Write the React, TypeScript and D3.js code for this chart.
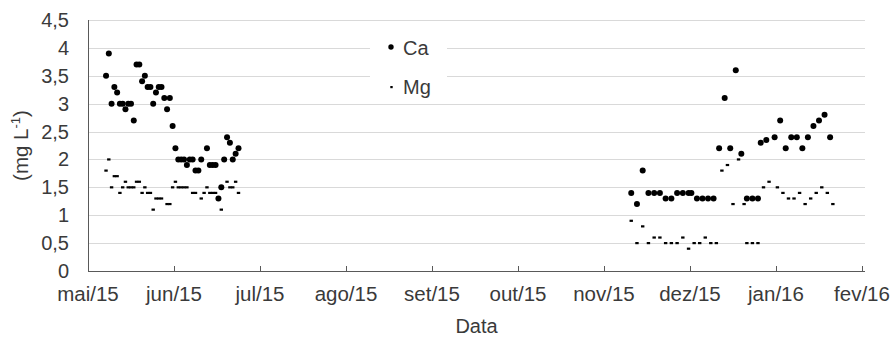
import React from 'react';
import * as d3 from 'd3';

const monthLabels = ['mai/15', 'jun/15', 'jul/15', 'ago/15', 'set/15', 'out/15', 'nov/15', 'dez/15', 'jan/16', 'fev/16'];
const yTicks = [0, 0.5, 1, 1.5, 2, 2.5, 3, 3.5, 4, 4.5];
const yTickLabels = ['0', '0,5', '1', '1,5', '2', '2,5', '3', '3,5', '4', '4,5'];

const caDates = [
  '2015-05-07', '2015-05-08', '2015-05-09', '2015-05-10', '2015-05-11', '2015-05-12', '2015-05-13', '2015-05-14',
  '2015-05-15', '2015-05-16', '2015-05-17', '2015-05-18', '2015-05-19', '2015-05-20', '2015-05-21', '2015-05-22',
  '2015-05-23', '2015-05-24', '2015-05-25', '2015-05-26', '2015-05-27', '2015-05-28', '2015-05-29', '2015-05-30',
  '2015-05-31',
  '2015-06-01', '2015-06-02', '2015-06-03', '2015-06-04', '2015-06-05', '2015-06-06', '2015-06-07', '2015-06-08',
  '2015-06-09', '2015-06-10', '2015-06-12', '2015-06-13', '2015-06-14', '2015-06-15', '2015-06-16', '2015-06-17',
  '2015-06-18', '2015-06-19', '2015-06-20', '2015-06-21', '2015-06-22', '2015-06-23',
  '2015-11-10', '2015-11-12', '2015-11-14', '2015-11-16', '2015-11-18', '2015-11-20', '2015-11-22', '2015-11-24',
  '2015-11-26', '2015-11-28', '2015-11-30',
  '2015-12-01', '2015-12-03', '2015-12-05', '2015-12-07', '2015-12-09',
  '2015-12-11', '2015-12-13', '2015-12-15', '2015-12-17', '2015-12-19',
  '2015-12-21', '2015-12-23', '2015-12-25', '2015-12-26', '2015-12-28', '2015-12-31',
  '2016-01-02', '2016-01-04', '2016-01-06', '2016-01-08', '2016-01-10', '2016-01-12', '2016-01-14', '2016-01-16',
  '2016-01-18', '2016-01-20',
];
const caValues = [
  3.5, 3.9, 3.0, 3.3, 3.2, 3.0, 3.0, 2.9,
  3.0, 3.0, 2.7, 3.7, 3.7, 3.4, 3.5, 3.3,
  3.3, 3.0, 3.2, 3.3, 3.3, 3.1, 2.9, 3.1,
  2.6,
  2.2, 2.0, 2.0, 2.0, 1.9, 2.0, 2.0, 1.8,
  1.8, 2.0, 2.2, 1.9, 1.9, 1.9, 1.3, 1.5,
  2.0, 2.4, 2.3, 2.0, 2.1, 2.2,
  1.4, 1.2, 1.8, 1.4, 1.4, 1.4, 1.3, 1.3,
  1.4, 1.4, 1.4,
  1.4, 1.3, 1.3, 1.3, 1.3,
  2.2, 3.1, 2.2, 3.6, 2.1,
  1.3, 1.3, 1.3, 2.3, 2.35, 2.4,
  2.7, 2.2, 2.4, 2.4, 2.2, 2.4, 2.6, 2.7,
  2.8, 2.4,
];

const mgDates = [
  '2015-05-07', '2015-05-08', '2015-05-09', '2015-05-10', '2015-05-11', '2015-05-12', '2015-05-13', '2015-05-14',
  '2015-05-15', '2015-05-16', '2015-05-17', '2015-05-18', '2015-05-19', '2015-05-20', '2015-05-21', '2015-05-22',
  '2015-05-23', '2015-05-24', '2015-05-25', '2015-05-26', '2015-05-27', '2015-05-29', '2015-05-30', '2015-05-31',
  '2015-06-01', '2015-06-02', '2015-06-03', '2015-06-04', '2015-06-05', '2015-06-07', '2015-06-08', '2015-06-10',
  '2015-06-11', '2015-06-12', '2015-06-13', '2015-06-14', '2015-06-15', '2015-06-17', '2015-06-19', '2015-06-20',
  '2015-06-21', '2015-06-22', '2015-06-23',
  '2015-11-10', '2015-11-12', '2015-11-14', '2015-11-16', '2015-11-18', '2015-11-20', '2015-11-22', '2015-11-24',
  '2015-11-26', '2015-11-28', '2015-11-30',
  '2015-12-02', '2015-12-04', '2015-12-06', '2015-12-08', '2015-12-10',
  '2015-12-12', '2015-12-14', '2015-12-16', '2015-12-18', '2015-12-20',
  '2015-12-21', '2015-12-23', '2015-12-25', '2015-12-27', '2015-12-29',
  '2016-01-01', '2016-01-03', '2016-01-05', '2016-01-07', '2016-01-09', '2016-01-11', '2016-01-13', '2016-01-15',
  '2016-01-17', '2016-01-19', '2016-01-21',
];
const mgValues = [
  1.8, 2.0, 1.5, 1.7, 1.7, 1.4, 1.5, 1.6,
  1.5, 1.5, 1.5, 1.6, 1.6, 1.4, 1.5, 1.4,
  1.4, 1.1, 1.3, 1.3, 1.3, 1.2, 1.2, 1.5,
  1.6, 1.5, 1.5, 1.5, 1.5, 1.4, 1.4, 1.3,
  1.4, 1.5, 1.4, 1.4, 1.4, 1.1, 1.6, 1.5,
  1.5, 1.6, 1.4,
  0.9, 0.5, 0.8, 0.5, 0.6, 0.6, 0.5, 0.5,
  0.5, 0.6, 0.4,
  0.5, 0.5, 0.6, 0.5, 0.5,
  1.8, 1.9, 1.2, 2.0, 1.2,
  0.5, 0.5, 0.5, 1.5, 1.6,
  1.5, 1.4, 1.3, 1.3, 1.4, 1.2, 1.3, 1.4,
  1.5, 1.4, 1.2,
];

const W = 894;
const H = 338;
const FONT = '"Liberation Sans", Arial, sans-serif';
const TEXT = '#3a3a3a';

// position of a date on the month-based axis (each month has equal width)
function monthPos(s: string): number {
  const [yy, mm, dd] = s.split('-').map(Number);
  const idx = (yy - 2015) * 12 + (mm - 1) - 4;
  const days = new Date(yy, mm, 0).getDate();
  return idx + (dd - 0.5) / days;
}

export default function App() {
  const x = d3.scaleLinear().domain([0, monthLabels.length - 1]).range([88, 862]);
  const y = d3.scaleLinear().domain([0, 4.5]).range([271, 20]);
  const plotLeft = 88;
  const plotRight = 865;

  const ca = caDates.map((d, i) => ({ x: x(monthPos(d)), y: y(caValues[i]) }));
  const mg = mgDates.map((d, i) => ({ x: x(monthPos(d)), y: y(mgValues[i]) }));

  return (
    <svg width={W} height={H} style={{ position: 'absolute', left: 0, top: 0, display: 'block', background: '#fff' }}
      fontFamily={FONT}>
      <rect x={0} y={0} width={W} height={H} fill="#fff" />
      {/* gridlines */}
      {yTicks.filter((t) => t > 0).map((t) => (
        <line key={'g' + t} x1={plotLeft} x2={plotRight} y1={Math.round(y(t)) + 0.5} y2={Math.round(y(t)) + 0.5}
          stroke="#d9d9d9" strokeWidth={1} />
      ))}
      {/* legend background */}
      <rect x={370} y={30} width={77} height={70} fill="#fff" />
      {/* axes */}
      <line x1={plotLeft + 0.5} x2={plotLeft + 0.5} y1={y(4.5)} y2={y(0)} stroke="#595959" strokeWidth={1} />
      <line x1={plotLeft} x2={plotRight} y1={Math.round(y(0)) + 0.5} y2={Math.round(y(0)) + 0.5} stroke="#595959" strokeWidth={1} />
      {monthLabels.map((m, i) => (
        <line key={'t' + m} x1={Math.round(x(i)) + 0.5} x2={Math.round(x(i)) + 0.5} y1={y(0) - 5} y2={y(0)}
          stroke="#595959" strokeWidth={1} />
      ))}
      {/* y tick labels */}
      {yTicks.map((t, i) => (
        <text key={'yl' + t} x={69} y={y(t)} dy="0.35em" textAnchor="end" fontSize={20} fill={TEXT}>
          {yTickLabels[i]}
        </text>
      ))}
      {/* x tick labels */}
      {monthLabels.map((m, i) => (
        <text key={'xl' + m} x={x(i)} y={301} textAnchor="middle" fontSize={20.5} fill={TEXT}>{m}</text>
      ))}
      {/* axis titles */}
      <text x={(plotLeft + plotRight) / 2} y={333} textAnchor="middle" fontSize={20} fill={TEXT}>Data</text>
      <text transform={`translate(28,${(y(0) + y(4.5)) / 2}) rotate(-90)`} textAnchor="middle" fontSize={20.5} fill={TEXT}>
        (mg L<tspan fontSize={13} dy={-8}>-1</tspan><tspan dy={8}>)</tspan>
      </text>
      {/* Ca points */}
      {ca.map((p, i) => (
        <circle key={'ca' + i} cx={p.x} cy={p.y} r={3} fill="#000" />
      ))}
      {/* Mg points */}
      {mg.map((p, i) => (
        <rect key={'mg' + i} x={p.x - 1.7} y={p.y - 1.1} width={3.4} height={2.2} fill="#000" />
      ))}
      {/* legend */}
      <circle cx={391} cy={47} r={2.7} fill="#000" />
      <text x={403} y={54.5} fontSize={20} fill={TEXT}>Ca</text>
      <rect x={390.3} y={86} width={2.4} height={2.2} fill="#000" />
      <text x={403} y={94.3} fontSize={20} fill={TEXT}>Mg</text>
    </svg>
  );
}
